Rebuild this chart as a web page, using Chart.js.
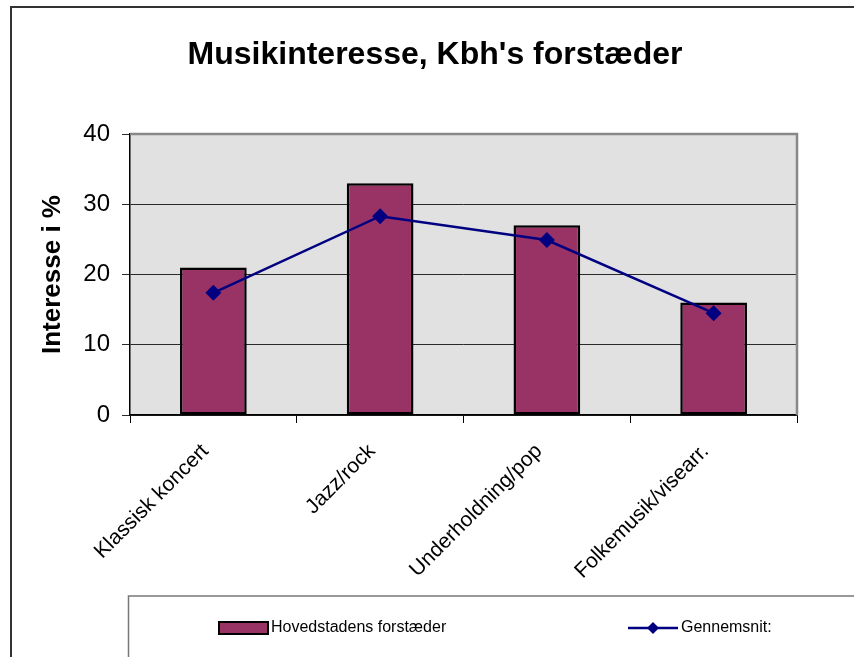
<!DOCTYPE html>
<html>
<head>
<meta charset="utf-8">
<script src="https://cdn.jsdelivr.net/npm/chart.js@4/dist/chart.umd.min.js"></script>
<style>
  html, body { margin: 0; padding: 0; background: #ffffff; }
  #wrap { position: relative; width: 854px; height: 657px; }
</style>
</head>
<body>
<div id="wrap"><canvas id="c" width="854" height="657"></canvas></div>
<script>
const categories = ["Klassisk koncert", "Jazz/rock", "Underholdning/pop", "Folkemusik/visearr."];
const suburbValues = [21, 33, 27, 16];
const averageValues = [17.4, 28.3, 24.9, 14.5];
const yTicks = [0, 10, 20, 30, 40];
const titleText = "Musikinteresse, Kbh's forstæder";
const yTitleText = "Interesse i %";
const seriesNames = ["Hovedstadens forstæder", "Gennemsnit:"];

const FONT = "'Liberation Sans', Arial, sans-serif";

const framePlugin = {
  id: 'frame',
  beforeDraw(chart) {
    const ctx = chart.ctx, a = chart.chartArea;
    ctx.save();
    ctx.fillStyle = '#ffffff';
    ctx.fillRect(0, 0, chart.width, chart.height);
    // outer chart border
    ctx.strokeStyle = '#333333';
    ctx.lineWidth = 2;
    ctx.strokeRect(11, 7, 900, 700);
    // plot background
    ctx.fillStyle = '#e1e1e1';
    ctx.fillRect(a.left, a.top, a.right - a.left, a.bottom - a.top);
    // title
    ctx.fillStyle = '#000000';
    ctx.font = "bold 32px " + FONT;
    ctx.textAlign = 'center';
    ctx.textBaseline = 'alphabetic';
    ctx.fillText(titleText, 435, 64);
    ctx.restore();
  },
  beforeDatasetsDraw(chart) {
    const ctx = chart.ctx, a = chart.chartArea;
    ctx.save();
    ctx.strokeStyle = '#888888';
    ctx.lineWidth = 2.5;
    ctx.beginPath();
    ctx.moveTo(a.left, a.top);
    ctx.lineTo(a.right, a.top);
    ctx.lineTo(a.right, a.bottom);
    ctx.stroke();
    ctx.restore();
  },
  afterDraw(chart) {
    const ctx = chart.ctx;
    const ds = chart.data.datasets;
    ctx.save();
    // legend box
    ctx.strokeStyle = '#777777';
    ctx.lineWidth = 1.5;
    ctx.strokeRect(128.5, 596, 800, 200);
    const cy = 628;
    // bar swatch
    ctx.fillStyle = ds[0].backgroundColor;
    ctx.fillRect(219, cy - 6, 49, 12);
    ctx.strokeStyle = '#000000';
    ctx.lineWidth = 2;
    ctx.strokeRect(219, cy - 6, 49, 12);
    ctx.fillStyle = '#000000';
    ctx.font = "16px " + FONT;
    ctx.textBaseline = 'middle';
    ctx.textAlign = 'left';
    ctx.fillText(ds[0].label, 271, cy);
    // line swatch
    ctx.strokeStyle = ds[1].borderColor;
    ctx.lineWidth = 2.5;
    ctx.beginPath();
    ctx.moveTo(628, cy);
    ctx.lineTo(678, cy);
    ctx.stroke();
    ctx.fillStyle = ds[1].borderColor;
    ctx.beginPath();
    ctx.moveTo(653, cy - 6);
    ctx.lineTo(659, cy);
    ctx.lineTo(653, cy + 6);
    ctx.lineTo(647, cy);
    ctx.closePath();
    ctx.fill();
    ctx.fillStyle = '#000000';
    ctx.fillText(ds[1].label, 681, cy);
    ctx.restore();
  }
};

new Chart(document.getElementById('c'), {
  data: {
    labels: categories,
    datasets: [
      {
        type: 'bar',
        label: seriesNames[0],
        data: suburbValues,
        backgroundColor: '#993366',
        borderColor: '#000000',
        borderWidth: 2.5,
        borderSkipped: false,
        categoryPercentage: 1.0,
        barPercentage: 0.4,
        order: 2
      },
      {
        type: 'line',
        label: seriesNames[1],
        data: averageValues,
        borderColor: '#000080',
        backgroundColor: '#000080',
        borderWidth: 2.5,
        pointStyle: 'rectRot',
        pointRadius: 8,
        pointBorderWidth: 0,
        pointBackgroundColor: '#000080',
        tension: 0,
        fill: false,
        order: 1
      }
    ]
  },
  options: {
    responsive: false,
    animation: false,
    devicePixelRatio: 1,
    layout: { padding: { left: 0, right: 57, top: 134, bottom: 0 } },
    plugins: {
      legend: { display: false },
      tooltip: { enabled: false },
      title: { display: false }
    },
    scales: {
      x: {
        type: 'category',
        offset: true,
        grid: {
          offset: true,
          drawOnChartArea: false,
          drawTicks: true,
          tickLength: 8,
          color: '#000000',
          lineWidth: 1
        },
        border: { display: true, color: '#000000', width: 1.5 },
        ticks: {
          autoSkip: false,
          minRotation: 45,
          maxRotation: 45,
          padding: 16,
          labelOffset: -8,
          color: '#000000',
          font: { family: FONT, size: 21 }
        },
        afterFit(scale) { scale.height = 242; }
      },
      y: {
        min: 0,
        max: 40,
        afterBuildTicks(scale) { scale.ticks = yTicks.map(v => ({ value: v })); },
        grid: {
          drawOnChartArea: true,
          drawTicks: true,
          tickLength: 8,
          color: '#2a2a2a',
          lineWidth: 1
        },
        border: { display: true, color: '#000000', width: 1.5 },
        ticks: {
          padding: 12,
          color: '#000000',
          font: { family: FONT, size: 24 }
        },
        title: {
          display: true,
          text: yTitleText,
          color: '#000000',
          font: { family: FONT, size: 26, weight: 'bold', lineHeight: 1.2 },
          padding: { top: 37, bottom: 0 }
        },
        afterFit(scale) { scale.width = 130; }
      }
    }
  },
  plugins: [framePlugin]
});
</script>
</body>
</html>
